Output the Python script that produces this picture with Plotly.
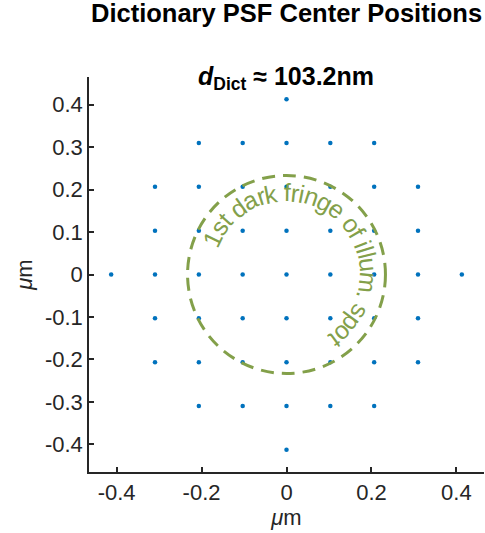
import math
import plotly.graph_objects as go

# ---- data ----
x_vals = [-0.4128,
          -0.3096, -0.3096, -0.3096, -0.3096, -0.3096,
          -0.2064, -0.2064, -0.2064, -0.2064, -0.2064, -0.2064, -0.2064,
          -0.1032, -0.1032, -0.1032, -0.1032, -0.1032, -0.1032, -0.1032,
          0.0, 0.0, 0.0, 0.0, 0.0, 0.0, 0.0, 0.0, 0.0,
          0.1032, 0.1032, 0.1032, 0.1032, 0.1032, 0.1032, 0.1032,
          0.2064, 0.2064, 0.2064, 0.2064, 0.2064, 0.2064, 0.2064,
          0.3096, 0.3096, 0.3096, 0.3096, 0.3096,
          0.4128]
y_vals = [0.0,
          -0.2064, -0.1032, 0.0, 0.1032, 0.2064,
          -0.3096, -0.2064, -0.1032, 0.0, 0.1032, 0.2064, 0.3096,
          -0.3096, -0.2064, -0.1032, 0.0, 0.1032, 0.2064, 0.3096,
          -0.4128, -0.3096, -0.2064, -0.1032, 0.0, 0.1032, 0.2064, 0.3096, 0.4128,
          -0.3096, -0.2064, -0.1032, 0.0, 0.1032, 0.2064, 0.3096,
          -0.3096, -0.2064, -0.1032, 0.0, 0.1032, 0.2064, 0.3096,
          -0.2064, -0.1032, 0.0, 0.1032, 0.2064,
          0.0]
fringe_radius = 0.233
fringe_label = "1st dark fringe of illum. spot"
x_ticks = [-0.4, -0.2, 0, 0.2, 0.4]
x_ticklabels = ["-0.4", "-0.2", "0", "0.2", "0.4"]
y_ticks = [-0.4, -0.3, -0.2, -0.1, 0, 0.1, 0.2, 0.3, 0.4]
y_ticklabels = ["-0.4", "-0.3", "-0.2", "-0.1", "0", "0.1", "0.2", "0.3", "0.4"]
title_text = "Dictionary PSF Center Positions"
subtitle_text = "<b><i>d</i><sub>Dict</sub> ≈ 103.2nm</b>"

GREEN = "#83A04A"
BLUE = "#0072BD"
AX = "#262626"
FONT = "Liberation Sans, Arial, Helvetica, sans-serif"

W, H = 485, 533
ML, MR, MT, MB = 89, 1, 77, 61
R = 0.465
PW, PH = W - ML - MR, H - MT - MB

fig = go.Figure()
fig.add_trace(go.Scatter(x=x_vals, y=y_vals, mode="markers",
                         marker=dict(color=BLUE, size=4.5, line=dict(width=0)),
                         hoverinfo="skip", showlegend=False))

fig.add_shape(type="circle", xref="x", yref="y",
              x0=-fringe_radius, y0=-fringe_radius, x1=fringe_radius, y1=fringe_radius,
              line=dict(color=GREEN, width=3, dash="13px,8px"))

# curved label along the circle
widths = {'1': 556, 's': 500, 't': 278, ' ': 278, 'd': 556, 'a': 556, 'r': 333, 'k': 500,
          'f': 278, 'i': 222, 'n': 556, 'g': 556, 'e': 556, 'o': 556, 'l': 222, 'u': 556,
          'm': 833, '.': 278, 'p': 556}
deg_per_em = 17.6
start_deg = 154.2
r_text = 0.194
pos = 0.0
first_half = widths[fringe_label[0]] / 2000
annots = []
for ch in fringe_label:
    w = widths.get(ch, 556) / 1000
    center = pos + w / 2
    pos += w
    if ch == ' ':
        continue
    th = start_deg - (center - first_half) * deg_per_em
    t = math.radians(th)
    annots.append(dict(x=r_text * math.cos(t), y=r_text * math.sin(t), xref="x", yref="y",
                       text=ch, showarrow=False, textangle=90 - th,
                       xanchor="center", yanchor="middle",
                       font=dict(family=FONT, size=25, color=GREEN)))

# subtitle
annots.append(dict(x=(286 - ML) / PW, y=(H - MB - 78) / PH,
                   xref="paper", yref="paper", text=subtitle_text, showarrow=False,
                   xanchor="center", yanchor="middle",
                   font=dict(family=FONT, size=25, color="black")))
# title
annots.append(dict(x=(286 - ML) / PW, y=(H - MB - 13) / PH,
                   xref="paper", yref="paper", text="<b>" + title_text + "</b>", showarrow=False,
                   xanchor="center", yanchor="middle",
                   font=dict(family=FONT, size=25.5, color="black")))

fig.update_layout(
    width=W, height=H,
    margin=dict(l=ML, r=MR, t=MT, b=MB, autoexpand=False),
    paper_bgcolor="white", plot_bgcolor="white",
    annotations=annots,
    font=dict(family=FONT, color=AX),
)
fig.update_xaxes(range=[-R, R], tickvals=x_ticks, ticktext=x_ticklabels,
                 ticks="inside", ticklen=5, tickwidth=1.5, tickcolor=AX,
                 showline=True, linecolor=AX, linewidth=1.5, showgrid=False, zeroline=False,
                 automargin=False,
                 tickfont=dict(family=FONT, size=22, color=AX),
                 title=dict(text="<i>μ</i>m", font=dict(family=FONT, size=22, color=AX), standoff=0))
fig.update_yaxes(range=[-R, R], tickvals=y_ticks, ticktext=y_ticklabels,
                 ticks="inside", ticklen=5, tickwidth=1.5, tickcolor=AX,
                 showline=True, linecolor=AX, linewidth=1.5, showgrid=False, zeroline=False,
                 automargin=False,
                 tickfont=dict(family=FONT, size=22, color=AX),
                 title=dict(text="<i>μ</i>m", font=dict(family=FONT, size=22, color=AX), standoff=6))

fig.write_html("out.html", config={"displayModeBar": False},
               post_script="document.body.style.margin='0px';")
